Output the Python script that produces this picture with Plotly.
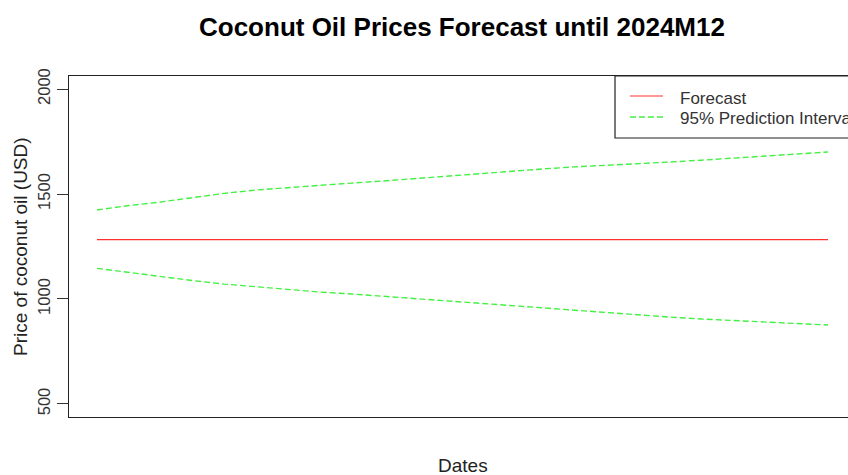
import plotly.graph_objects as go

# Forecast horizon (monthly)
dates = [f"2023M{m}" for m in range(1, 13)] + [f"2024M{m}" for m in range(1, 13)]
forecast = [1283] * 24
upper = [1424, 1445, 1462, 1483, 1503, 1519, 1531, 1543, 1552, 1562, 1574, 1586,
         1598, 1609, 1619, 1629, 1636, 1643, 1652, 1661, 1670, 1679, 1689, 1700]
lower = [1146, 1126, 1107, 1088, 1071, 1058, 1045, 1033, 1024, 1013, 1002, 990,
         981, 968, 956, 945, 936, 925, 914, 905, 898, 890, 883, 876]
y_ticks = [500, 1000, 1500, 2000]

FONT = "Liberation Sans, Arial, sans-serif"
x = list(range(1, len(dates) + 1))

GREEN = "#44f044"
RED = "#ff3030"

fig = go.Figure()
fig.add_trace(go.Scatter(x=x, y=upper, mode="lines", customdata=dates,
                         line=dict(color=GREEN, width=1.4, dash="6px,3px"), showlegend=False))
fig.add_trace(go.Scatter(x=x, y=lower, mode="lines", customdata=dates,
                         line=dict(color=GREEN, width=1.4, dash="6px,3px"), showlegend=False))
fig.add_trace(go.Scatter(x=x, y=forecast, mode="lines", customdata=dates,
                         line=dict(color=RED, width=1.2), showlegend=False))

L, T, W, H = 69, 76, 848, 475
B = 417
pw = W - L
ph = B - T

def px(xp):
    return (xp - L) / pw

def py(yp):
    return (B - yp) / ph

ppu = 731 / 23
fig.update_layout(
    width=W, height=H,
    margin=dict(l=L, r=0, t=T, b=H - B),
    paper_bgcolor="white", plot_bgcolor="white",
    font=dict(family=FONT, color="#222"),
    xaxis=dict(range=[1 - 28 / ppu, 24 + 20 / ppu], showgrid=False, zeroline=False,
               showticklabels=False, ticks="", showline=True, linecolor="#222",
               linewidth=1, mirror=True),
    yaxis=dict(range=[438, 2062], tickvals=y_ticks, showgrid=False, zeroline=False,
               ticks="outside", ticklen=11, tickcolor="#333", tickwidth=1,
               tickangle=-90, tickfont=dict(size=16.5, color="#333", family=FONT),
               showline=True, linecolor="#222", linewidth=1, mirror=False),
    showlegend=False,
)

ann = []
ann.append(dict(text="<b>Coconut Oil Prices Forecast until 2024M12</b>", x=px(462), y=py(27),
                xref="paper", yref="paper", showarrow=False, xanchor="center", yanchor="middle",
                font=dict(size=26, color="black", family=FONT)))
ann.append(dict(text="Dates", x=px(463), y=py(465), xref="paper", yref="paper", showarrow=False,
                xanchor="center", yanchor="middle", font=dict(size=19, color="#222", family=FONT)))
ann.append(dict(text="Price of coconut oil (USD)", x=px(20), y=py(247), xref="paper", yref="paper",
                showarrow=False, textangle=-90, xanchor="center", yanchor="middle",
                font=dict(size=19, color="#222", family=FONT)))
ann.append(dict(text="Forecast", x=px(678), y=py(98), xref="paper", yref="paper", showarrow=False,
                xanchor="left", yanchor="middle", font=dict(size=17, color="#333", family=FONT)))
ann.append(dict(text="95% Prediction Interval", x=px(678), y=py(118.5), xref="paper", yref="paper",
                showarrow=False, xanchor="left", yanchor="middle",
                font=dict(size=17, color="#333", family=FONT)))
fig.update_layout(annotations=ann)

shapes = [
    dict(type="rect", xref="paper", yref="paper", x0=px(615), x1=1.2, y0=py(138), y1=1.0,
         line=dict(color="#222", width=1.2), fillcolor="white", layer="above"),
    dict(type="line", xref="paper", yref="paper", x0=px(630), x1=px(663), y0=py(96), y1=py(96),
         line=dict(color=RED, width=1.2)),
    dict(type="line", xref="paper", yref="paper", x0=px(630), x1=px(663), y0=py(117), y1=py(117),
         line=dict(color=GREEN, width=1.4, dash="6px,3px")),
]
fig.update_layout(shapes=shapes)

fig.write_html("out.html")
